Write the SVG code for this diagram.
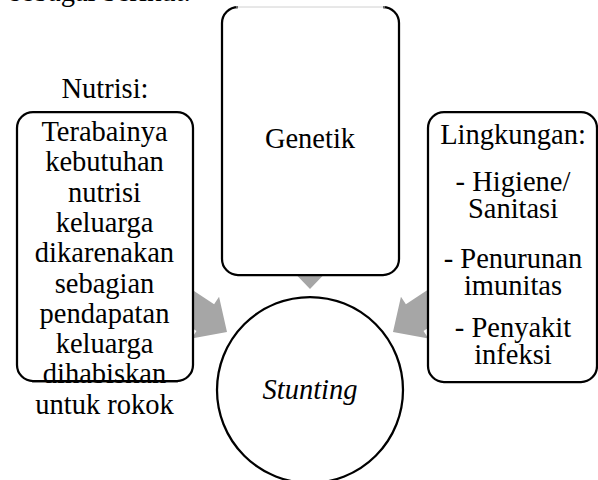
<svg xmlns="http://www.w3.org/2000/svg" width="598" height="480" viewBox="0 0 598 480">
  <style>
    text { font-family: "Liberation Serif", "Times New Roman", serif; font-size: 28.5px; fill: #000; text-anchor: middle; }
    .box { fill: #fff; stroke: #000; stroke-width: 2.25; }
    .arrow { fill: #a6a6a6; stroke: none; }
  </style>
  <defs>
    <polygon id="blockArrow" points="0,0 -26,-25 -26,-16 -70,-16 -70,16 -26,16 -26,25"/>
  </defs>
  <rect width="598" height="480" fill="#fff"/>
  <text x="10" y="1" style="text-anchor:start">sebagai berikut:</text>

  <g id="connectors">
    <use href="#blockArrow" class="arrow" transform="translate(227,332) rotate(33.4)"/>
    <use href="#blockArrow" class="arrow" transform="translate(393,332) rotate(146.6)"/>
    <use href="#blockArrow" class="arrow" transform="translate(310,289) rotate(90)"/>
  </g>

  <g id="node-nutrisi">
    <text x="105" y="98">Nutrisi:</text>
    <rect class="box" x="17" y="112" width="176" height="269" rx="16" ry="16"/>
    <text x="104.5" y="141">Terabainya</text>
    <text x="104.5" y="171.3">kebutuhan</text>
    <text x="104.5" y="201.6">nutrisi</text>
    <text x="104.5" y="231.9">keluarga</text>
    <text x="104.5" y="262.2">dikarenakan</text>
    <text x="104.5" y="292.5">sebagian</text>
    <text x="104.5" y="322.8">pendapatan</text>
    <text x="104.5" y="353.1">keluarga</text>
    <text x="104.5" y="383.4">dihabiskan</text>
    <path d="M32 381 H178" stroke="#000" stroke-width="2.25" fill="none"/>
    <text x="104.5" y="413.7">untuk rokok</text>
  </g>

  <g id="node-genetik">
    <path class="box" d="M238 7 A16 16 0 0 0 222 23 V259 A16 16 0 0 0 238 275 H383 A16 16 0 0 0 399 259 V23 A16 16 0 0 0 383 7"/>
    <line x1="236" y1="7" x2="385" y2="7" stroke="#d0d0d0" stroke-width="1"/>
    <text x="310" y="148">Genetik</text>
  </g>

  <g id="node-lingkungan">
    <rect class="box" x="428" y="112" width="169" height="270" rx="16" ry="16"/>
    <text x="513" y="144">Lingkungan:</text>
    <text x="513" y="190.5">- Higiene/</text>
    <text x="513" y="218">Sanitasi</text>
    <text x="513" y="268">- Penurunan</text>
    <text x="513" y="295">imunitas</text>
    <text x="513" y="337">- Penyakit</text>
    <text x="513" y="363.5">infeksi</text>
  </g>

  <g id="node-stunting">
    <circle class="box" cx="310" cy="390" r="93"/>
    <text x="310" y="399" style="font-style:italic">Stunting</text>
  </g>
</svg>
